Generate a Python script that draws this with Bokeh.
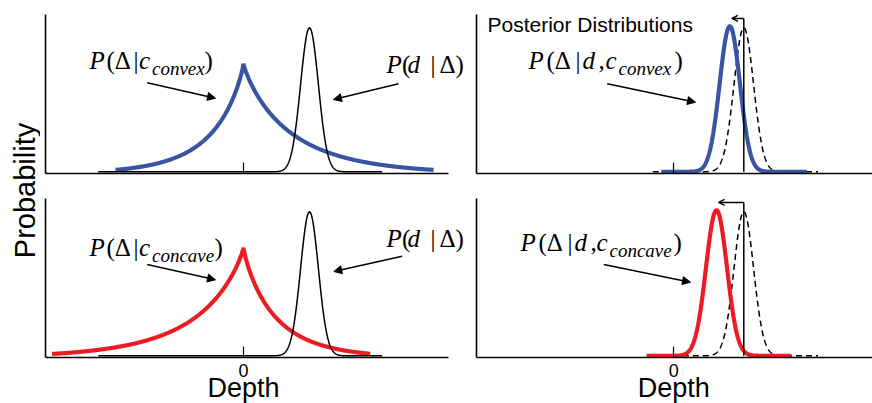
import numpy as np
from bokeh.plotting import figure
from bokeh.layouts import row, column
from bokeh.models import Range1d, Label, Arrow, NormalHead, OpenHead, FixedTicker
from bokeh.embed import file_html
from bokeh.resources import INLINE

# ---------------- data ----------------
# Depth units: 0 = tick "0"; likelihood centred at 1
prior_names = ["convex", "concave"]
prior_peak = [0.765, 0.765]
prior_floor = [0.015, 0.015]
prior_scale_left = [0.49, 0.73]
prior_scale_right = [0.73, 0.49]
prior_shape = [0.87, 0.87]
prior_start = [-1.94, -2.90]
prior_end = [2.88, 1.92]

like_mean = 1.0
like_sd = 0.135
like_peak = 1.0
like_start = -2.2
like_end = 2.1

post_mean = [0.80, 0.61]
post_sd = [0.145, 0.15]
post_peak = [1.01, 1.01]
post_start = [-0.18, -0.39]
post_end = [1.90, 1.68]

dash_mean = 1.0
dash_sd = 0.14
dash_peak = 1.0
dash_start = -0.30
dash_end = 2.06

shift_arrow_y = 1.065

tick_values = [0]
tick_labels = {0: "0"}

BLUE = "#3a54a4"
RED = "#ec1c24"
colors = [BLUE, RED]

# ---------------- layout helpers (pixel geometry) ----------------
PPU_L, ZERO_L = 66.0, 243.0
PPU_R, ZERO_R = 70.0, 673.3
PPY = 144.0
Y0 = -0.012
FRAME_H = 159
SERIF = "Liberation Serif"
SANS = "Liberation Sans"


def mk_fig(width, height, left, top, bottom, xr, labelled):
    extra = (bottom / PPY) if labelled else 0.0
    p = figure(width=width, height=height, output_backend="svg", toolbar_location=None,
               x_range=Range1d(*xr), y_range=Range1d(Y0 - extra, Y0 + FRAME_H / PPY),
               min_border_left=left, min_border_right=0,
               min_border_top=top, min_border_bottom=0 if labelled else bottom)
    p.outline_line_color = None
    p.grid.visible = False
    p.background_fill_color = "white"
    p.border_fill_color = "white"
    ax = p.xaxis[0]
    if labelled:
        ax.fixed_location = Y0
        ax.ticker = FixedTicker(ticks=tick_values)
        ax.major_label_overrides = tick_labels
        ax.major_label_text_font = SANS
        ax.major_label_text_font_size = "18px"
        ax.major_label_text_color = "black"
        ax.major_label_standoff = 6
    else:
        ax.ticker = FixedTicker(ticks=[], minor_ticks=tick_values)
    ax.major_tick_in = 11
    ax.major_tick_out = 0
    ax.minor_tick_in = 11
    ax.minor_tick_out = 0
    ax.major_tick_line_width = 1.2
    ax.minor_tick_line_width = 1.2
    ax.major_tick_line_color = "black"
    ax.minor_tick_line_color = "black"
    ax.axis_line_width = 1.6
    ax.axis_line_color = "black"
    ay = p.yaxis[0]
    ay.ticker = FixedTicker(ticks=[])
    ay.bounds = (Y0, Y0 + FRAME_H / PPY)
    ay.minor_tick_line_color = None
    ay.major_tick_line_color = None
    ay.major_label_standoff = 0
    ay.axis_line_width = 1.6
    ay.axis_line_color = "black"
    return p


def to_data(side, base_py):
    ppu, zero = (PPU_L, ZERO_L) if side == "L" else (PPU_R, ZERO_R)
    return lambda px, py: ((px - zero) / ppu, Y0 + (base_py - py) / PPY)


def math_label(p, conv, pieces):
    # pieces: text, left x (px), baseline y (px), size, italic
    for text, px, py, size, italic in pieces:
        x, y = conv(px, py - 0.34 * size)
        p.add_layout(Label(x=x, y=y, text=text, text_font=SERIF,
                           text_font_style="italic" if italic else "normal",
                           text_font_size=f"{size}px", text_align="left",
                           text_baseline="middle", text_color="black"))


def arrow(p, conv, a, b):
    x0, y0 = conv(*a)
    x1, y1 = conv(*b)
    p.add_layout(Arrow(x_start=x0, y_start=y0, x_end=x1, y_end=y1,
                       end=NormalHead(size=8, fill_color="black", line_color="black"),
                       line_color="black", line_width=1.4))


def prior_curve(i):
    x = np.linspace(prior_start[i], prior_end[i], 800)
    x = np.sort(np.append(x, 0.0))
    b = np.where(x < 0, prior_scale_left[i], prior_scale_right[i])
    y = prior_peak[i] * np.exp(-(np.abs(x) / b) ** prior_shape[i]) - prior_floor[i]
    return x, np.clip(y, 0, None)


def gauss(m, s, h, a, b):
    x = np.linspace(a, b, 600)
    return x, h * np.exp(-0.5 * ((x - m) / s) ** 2)


xr_left = ((45 - ZERO_L) / PPU_L, (465 - ZERO_L) / PPU_L)
axis_end_left = (448 - ZERO_L) / PPU_L
xr_right = ((476 - ZERO_R) / PPU_R, (872 - ZERO_R) / PPU_R)

M, S = 25, 19  # main / subscript font sizes (px)
figs = {}
for r, (h, top, bottom, base) in enumerate([(190, 14, 17, 173), (213, 8, 46, 357)]):
    # ---- left: prior + likelihood
    pl = mk_fig(425, h, 5, top, bottom, xr_left, r == 1)
    pl.xaxis[0].bounds = (xr_left[0], axis_end_left)
    x, y = prior_curve(r)
    pl.line(x, y, line_color=colors[r], line_width=4.2)
    x, y = gauss(like_mean, like_sd, like_peak, like_start, like_end)
    pl.line(x, y, line_color="black", line_width=1.5)
    cl = to_data("L", base)
    # ---- right: posterior
    pr = mk_fig(407, h, 11, top, bottom, xr_right, r == 1)
    x, y = gauss(dash_mean, dash_sd, dash_peak, dash_start, dash_end)
    pr.line(x, y, line_color="black", line_width=1.5, line_dash="6 4")
    x, y = gauss(post_mean[r], post_sd[r], post_peak[r], post_start[r], post_end[r])
    pr.line(x, y, line_color=colors[r], line_width=4.2)
    pr.segment(x0=[dash_mean], y0=[0], x1=[dash_mean], y1=[shift_arrow_y],
               line_color="black", line_width=1.5)
    pr.add_layout(Arrow(x_start=dash_mean, y_start=shift_arrow_y,
                        x_end=post_mean[r] + 0.03, y_end=shift_arrow_y,
                        end=OpenHead(size=6, line_width=1.4, line_color="black"),
                        line_color="black", line_width=1.5))
    cr = to_data("R", base)
    if r == 0:
        math_label(pl, cl, [("P", 89, 68, M, True), ("(Δ", 106, 68, M, False),
                            ("|", 133, 68, M, False), ("c", 138.5, 68, M, True),
                            ("convex", 151.5, 74.5, S, True), (")", 204, 68, M, False)])
        math_label(pl, cl, [("P", 386, 72, M, True), ("(", 401.5, 72, M, False),
                            ("d", 407, 72, M, True), ("|", 430, 72, M, False),
                            ("Δ)", 439, 72, M, False)])
        arrow(pl, cl, (146.7, 82.3), (215, 97.7))
        arrow(pl, cl, (398, 83.3), (333, 99))
        math_label(pr, cr, [("P", 528, 68, M, True), ("(Δ", 546, 68, M, False),
                            ("|", 575, 68, M, False), ("d", 582, 68, M, True),
                            (",", 598, 68, M, False), ("c", 605, 68, M, True),
                            ("convex", 618, 74.5, S, True), (")", 674, 68, M, False)])
        arrow(pr, cr, (606.7, 83.3), (695, 101.7))
        x0, y0 = cr(487, 31 - 0.35 * 21)
        pr.add_layout(Label(x=x0, y=y0, text="Posterior Distributions", text_font=SANS,
                            text_font_size="21px", text_align="left", text_baseline="middle",
                            text_color="black"))
    else:
        math_label(pl, cl, [("P", 89, 255, M, True), ("(Δ", 106, 255, M, False),
                            ("|", 133, 255, M, False), ("c", 138.5, 255, M, True),
                            ("concave", 151.5, 261.5, S, True), (")", 214, 255, M, False)])
        math_label(pl, cl, [("P", 386, 246, M, True), ("(", 401.5, 246, M, False),
                            ("d", 407, 246, M, True), ("|", 430, 246, M, False),
                            ("Δ)", 439, 246, M, False)])
        arrow(pl, cl, (146.7, 264), (215, 279.3))
        arrow(pl, cl, (401.7, 255.7), (333.3, 271))
        math_label(pr, cr, [("P", 520, 250, M, True), ("(Δ", 538, 250, M, False),
                            ("|", 567, 250, M, False), ("d", 574, 250, M, True),
                            (",", 590, 250, M, False), ("c", 596, 250, M, True),
                            ("concave", 609, 256.5, S, True), (")", 673, 250, M, False)])
        arrow(pr, cr, (603.3, 264), (690, 281.7))
        for p, c, zx in [(pl, cl, ZERO_L), (pr, cr, ZERO_R)]:
            _, yd = c(zx, 396.7 - 0.35 * 27)
            p.add_layout(Label(x=0, y=yd, text="Depth", text_font=SANS,
                               text_font_size="27px", text_align="center",
                               text_baseline="middle", text_color="black"))
    figs[r] = (pl, pr)

# y-axis title panel
lab = figure(width=40, height=403, output_backend="svg", toolbar_location=None,
             x_range=Range1d(0, 40), y_range=Range1d(403, 0),
             min_border=0, min_border_left=0, min_border_right=0,
             min_border_top=0, min_border_bottom=0)
lab.axis.visible = False
lab.grid.visible = False
lab.outline_line_color = None
lab.add_layout(Label(x=24, y=190, text="Probability", angle=np.pi / 2,
                     text_font=SANS, text_font_size="29px",
                     text_align="center", text_baseline="middle", text_color="black"))

layout = row(lab, column(row(*figs[0]), row(*figs[1])))
open("out.html", "w").write(file_html(layout, INLINE))
